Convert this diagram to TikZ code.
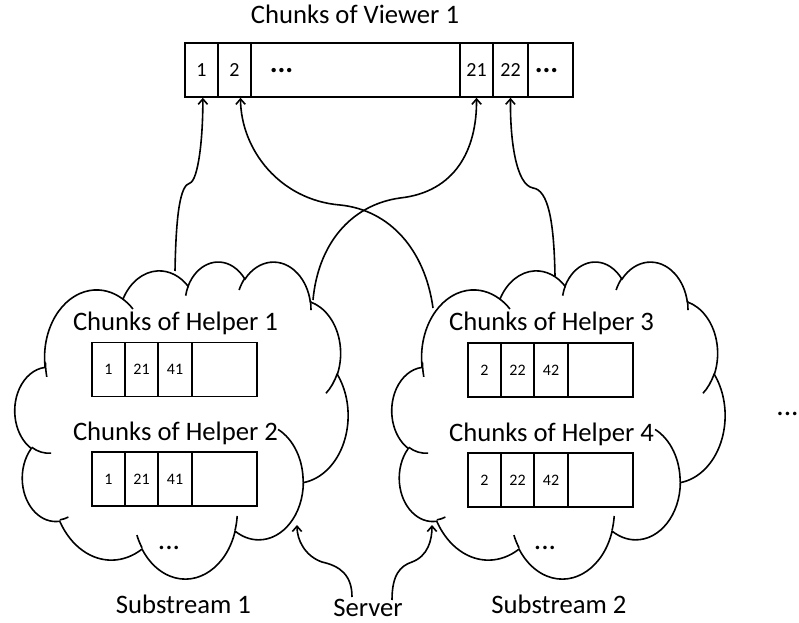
\documentclass[tikz,border=0pt]{standalone}
\usepackage{fontspec}
\setmainfont{Carlito}
\usetikzlibrary{arrows.meta}

\begin{document}
\begin{tikzpicture}[x=0.75pt,y=-0.75pt,very thick,>={Straight Barb[length=4pt,width=7pt]},
cell/.style ={rectangle, draw, inner sep=0pt, minimum width=24.75pt, minimum height=40.5pt, font=\fontsize{12}{14}\selectfont},
vcell/.style ={cell, font=\fontsize{15}{18}\selectfont},
lbl/.style ={anchor=base, inner sep=0pt, font=\fontsize{20}{24}\selectfont},
dots/.style ={inner sep=0pt, font=\fontsize{22}{26}\selectfont},
bdots/.style ={inner sep=0pt, font=\fontsize{22}{26}\selectfont\bfseries},
carc/.style n args={4}{x radius=#1, y radius=#2,
  start angle={atan2(#1*sin(#3),#2*cos(#3))},
  delta angle={mod(atan2(#1*sin(#3+#4),#2*cos(#3+#4))-atan2(#1*sin(#3),#2*cos(#3))+720,360)}}
]
\useasboundingbox (0,0) rectangle (799,623);

\foreach \dx in {0,377}{
\begin{scope}[shift={(15+\dx,261)},x=0.5781pt,y=-0.5503pt]
\draw[fill=white] (39,143.7) arc[carc={67.53}{91.90}{-190.4875}{123.7805}]
  arc[carc={53.33}{72.67}{-144.1024}{89.9452}]
  arc[carc={43.65}{59.45}{-145.8079}{99.7230}]
  arc[carc={48.57}{65.95}{-130.9861}{117.2417}]
  arc[carc={53.33}{72.73}{-78.7089}{109.0269}]
  arc[carc={67.75}{92.20}{-46.2673}{130.2690}]
  arc[carc={57.85}{78.67}{0.6250}{114.0333}]
  arc[carc={67.52}{92.15}{22.4516}{115.1726}]
  arc[carc={77.20}{105.43}{66.2426}{75.7110}]
  arc[carc={43.60}{59.18}{-274.9421}{146.7356}]
  arc[carc={43.45}{59.45}{-246.8285}{152.5189}] -- cycle;
\draw (46.93,261.77) arc[carc={43.45}{59.45}{86.7420}{26.4295}]
  (69.28,348.99) arc[carc={43.60}{59.18}{73.6105}{11.4475}]
  (164.78,390.90) arc[carc={67.52}{92.15}{137.6242}{14.0811}]
  (288.27,347.51) arc[carc={67.52}{92.15}{6.4533}{15.9984}]
  (341.29,229.54) arc[carc={57.85}{78.67}{-70.2924}{70.9174}]
  (417.98,153.54) arc[carc={53.33}{72.73}{30.3180}{27.7515}]
  (383.24,54.26) arc[carc={48.57}{65.95}{-13.7443}{14.8589}]
  (290.78,39.52) arc[carc={48.57}{65.95}{-149.1815}{18.1954}]
  (221.41,47.20) arc[carc={43.65}{59.45}{-163.4943}{17.6864}]
  (140.00,51.92) arc[carc={67.53}{91.90}{-66.7070}{12.3194}]
  (41.27,157.89) arc[carc={67.53}{91.90}{162.2140}{16.6992}];
\end{scope}
}

\draw (355,24) node[lbl] (TV) {Chunks of Viewer 1};
\draw (201.5,70) node[vcell] (V1) {1};
\draw (234.5,70) node[vcell] (V2) {2};
\draw (355.5,70) node[vcell, minimum width=156.75pt] (Vd) {};
\draw (281.5,71) node[bdots] (Vdots) {...};
\draw (476.5,70) node[vcell] (V21) {21};
\draw (510.5,70) node[vcell, minimum width=26.25pt] (V22) {22};
\draw (550.5,70) node[vcell, minimum width=33.75pt] (Vm) {};
\draw (546.5,71) node[bdots] (Vmdots) {...};

\draw (175.5,330) node[lbl] (T1) {Chunks of Helper 1};
\draw (108.5,369.5) node[cell] (A1) {1};
\draw (141.5,369.5) node[cell] (A2) {21};
\draw (175,369.5) node[cell] (A3) {41};
\draw (224.5,369.5) node[cell, minimum width=48.75pt] (A4) {};
\draw (175.5,440) node[lbl] (T2) {Chunks of Helper 2};
\draw (108.5,479) node[cell] (B1) {1};
\draw (141.5,479) node[cell] (B2) {21};
\draw (175,479) node[cell] (B3) {41};
\draw (224.5,479) node[cell, minimum width=48.75pt] (B4) {};
\draw (169,548) node[dots] (d1) {...};

\draw (551.5,330) node[lbl] (T3) {Chunks of Helper 3};
\draw (484.5,370) node[cell] (C1) {2};
\draw (517.5,370) node[cell] (C2) {22};
\draw (551,370) node[cell] (C3) {42};
\draw (600.5,370) node[cell, minimum width=48.75pt] (C4) {};
\draw (551.5,441) node[lbl] (T4) {Chunks of Helper 4};
\draw (484.5,480) node[cell] (D1) {2};
\draw (517.5,480) node[cell] (D2) {22};
\draw (551,480) node[cell] (D3) {42};
\draw (600.5,480) node[cell, minimum width=48.75pt] (D4) {};
\draw (545,548) node[dots] (d2) {...};

\draw (787.5,414) node[dots] (d3) {...};

\draw (183.5,613) node[lbl] (S1) {Substream 1};
\draw (559,613) node[lbl] (S2) {Substream 2};
\draw (368,616) node[lbl] (Sv) {Server};

\coordinate (a1) at (175,271);
\coordinate (a2) at (313,300);
\coordinate (b1) at (433,308);
\coordinate (b2) at (555,276);
\coordinate (s1) at (352,597);
\coordinate (s2) at (392,600);
\coordinate (e1) at (297,525);
\coordinate (e2) at (432,525);

\draw[->] (a1) .. controls (176,215) and (180,185) .. (190,183) .. controls (198,180) and (203,140) .. ([xshift=1pt]V1.south);
\draw[->] (a2) .. controls (318,245) and (350,205) .. (400,198) .. controls (455,192) and (477,150) .. (V21.south);
\draw[->] (b1) .. controls (425,250) and (390,210) .. (340,205) .. controls (280,200) and (241,150) .. ([xshift=4.5pt]V2.south);
\draw[->] (b2) .. controls (554,220) and (548,190) .. (533,188) .. controls (516,185) and (510,140) .. (V22.south);
\draw[->] (s1) .. controls (352,575) and (340,566) .. (322,562) .. controls (305,556) and (297,540) .. (e1);
\draw[->] (s2) .. controls (392,575) and (400,566) .. (412,562) .. controls (428,556) and (432,540) .. (e2);

\end{tikzpicture}
\end{document}
